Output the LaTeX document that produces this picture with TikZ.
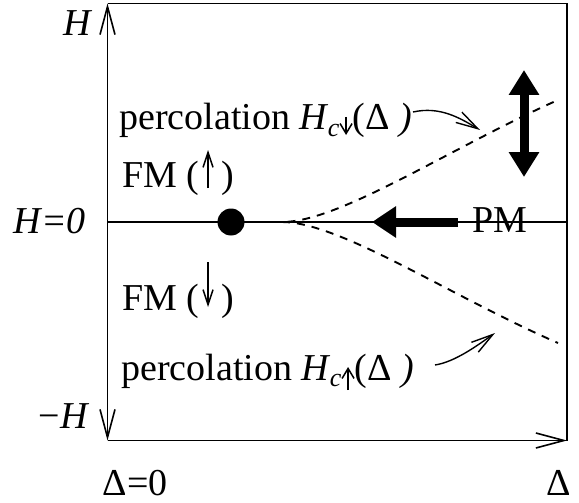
\documentclass[tikz,border=0pt]{standalone}
\usepackage{fontspec}
\setmainfont{Liberation Serif}
\usetikzlibrary{arrows.meta}
\newcommand{\glypharrow}[4]{\tikz[baseline=0pt,x=1pt,y=1pt]{\draw[line width=1.5pt,-{Straight Barb[length=#3pt,width=#4pt]}] (0,#1) -- (0,#2);}}
\begin{document}
\begin{tikzpicture}[x=1pt,y=-1pt,line width=1.6pt,
  lbl/.style={inner sep=0pt,anchor=base west,font=\fontsize{38}{44}\selectfont},
  axisarr/.style={-{Straight Barb[length=28pt,width=15pt]}},
  pointer/.style={line width=1.4pt,-{Straight Barb[length=22pt,width=12pt]}},
  crit/.style={dash pattern=on 8pt off 7pt,line width=1.9pt},
  bigarr/.style={line width=9pt,-{Triangle[length=24pt,width=30pt]}},
  dblarr/.style={line width=9pt,{Triangle[length=25pt,width=29pt]}-{Triangle[length=25pt,width=29pt]}}]
\useasboundingbox (0,0) rectangle (579,503);
% frame and axes
\coordinate (O) at (107.5,222);
\coordinate (top) at (107.5,3.5);
\coordinate (bot) at (107.5,440.5);
\coordinate (TR) at (567,3.5);
\coordinate (BR) at (567,440.5);
\coordinate (R0) at (567,222);
\draw (top) -- (TR) -- (BR);
\draw[axisarr] (O) -- (top);
\draw[axisarr] (O) -- (bot);
\draw[axisarr] (bot) -- (BR);
\draw[line width=1.2pt] (O) -- (R0);
% critical lines
\coordinate (M) at (282,222);
\coordinate (Uend) at (558,100);
\coordinate (Lend) at (558,343);
\draw[crit] (O) -- (M) .. controls (340,222) and (450,148) .. (Uend);
\draw[crit] (M) .. controls (340,222) and (450,296) .. (Lend);
% critical point
\node[circle,fill,inner sep=0pt,minimum size=27pt] (cp) at (231,222) {};
% big arrows
\coordinate (vt) at (524,70);
\coordinate (vb) at (524,177);
\draw[dblarr] (vt) -- (vb);
\coordinate (ht) at (458,222);
\coordinate (hh) at (372,222);
\draw[bigarr] (ht) -- (hh);
% labels
\node[lbl] (Hlab) at (63,36) {\textit{H}};
\node[lbl] (H0) at (13,233) {\textit{H=0}};
\node[lbl] (mH) at (38,428) {−\textit{H}};
\node[lbl] (D0) at (102,495) {Δ=0};
\node[lbl] (D) at (546,495) {Δ};
\node[lbl] (fmu) at (122,187) {FM (\kern3pt\glypharrow{-1}{37}{15}{10}\kern8pt)};
\node[lbl] (fmd) at (122,310) {FM (\kern3pt\glypharrow{48}{3}{15}{10}\kern8pt)};
\node[lbl] (pm) at (472,232) {PM};
\node[lbl] (pu) at (119,130) {percolation \textit{H}\kern-1pt\raisebox{-6pt}{\fontsize{26}{26}\selectfont\textit{c}}\glypharrow{13}{-5}{10}{12}(Δ\ \textit{)}};
\node[lbl] (pl) at (121,380) {percolation \textit{H}\kern-1pt\raisebox{-6pt}{\fontsize{26}{26}\selectfont\textit{c}}\glypharrow{-10}{13}{10}{12}(Δ\ \textit{)}};
% pointers
\coordinate (pus) at (413,112);
\coordinate (pue) at (480,130);
\draw[pointer] (pus) .. controls (440,106) and (460,118) .. (pue);
\coordinate (pls) at (435,365);
\coordinate (ple) at (495,333);
\draw[pointer] (pls) .. controls (455,362) and (478,345) .. (ple);
\end{tikzpicture}
\end{document}
